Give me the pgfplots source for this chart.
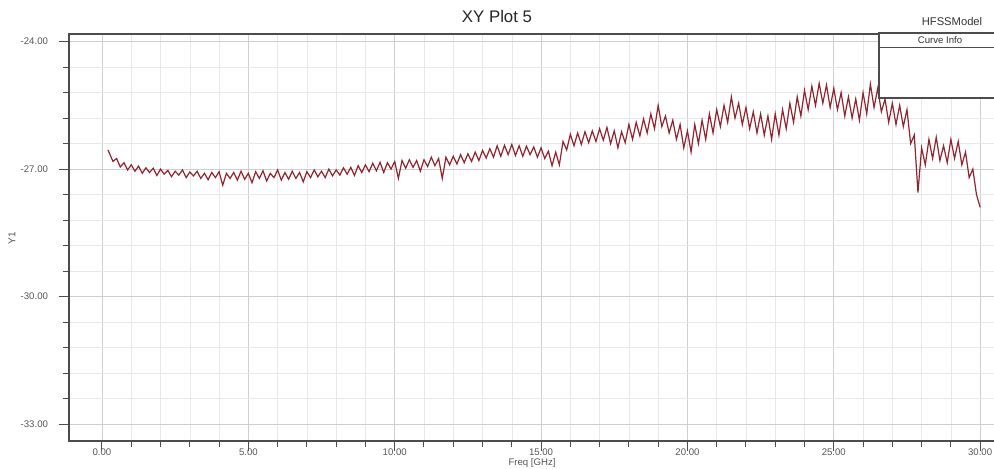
\documentclass[border=0pt]{standalone}
\usepackage{pgfplots}
\pgfplotsset{compat=1.18}
\usepackage{fontspec}
\setmainfont{Liberation Sans}
\definecolor{curve}{RGB}{145,36,46}
\definecolor{tickcol}{RGB}{85,85,85}
\begin{document}
\begin{tikzpicture}
\useasboundingbox (0pt,0pt) rectangle (497pt,234.5pt);
\begin{axis}[
  at={(34.5pt,14pt)}, anchor=south west,
  width=464.5pt, height=203.5pt, scale only axis,
  xmin=-1.127, xmax=30.61, ymin=-33.4, ymax=-23.82,
  xtick={0,5,10,15,20,25,30}, minor x tick num=4,
  ytick={-33,-30,-27,-24}, minor y tick num=4,
  grid=both,
  major grid style={draw=gray!38, line width=0.35pt},
  minor grid style={draw=gray!18, line width=0.3pt},
  axis line style={draw=gray!60!black, line width=0.7pt},
  tick align=outside, tick pos=left,
  major tick length=5pt, minor tick length=3pt,
  every tick/.style={draw=gray!60!black, line width=0.5pt},
  /pgf/number format/assume math mode=true,
  /pgf/number format/.cd, fixed, fixed zerofill, precision=2,
  /pgfplots/.cd,
  ticklabel style={font=\fontsize{4.8}{5}\selectfont, text=tickcol},
  yticklabel style={xshift=-2pt},
  xticklabel style={yshift=4.5pt},
]
\addplot[curve, line width=0.6pt] coordinates {
(0.2,-26.55)(0.25,-26.62)(0.375,-26.82)(0.5,-26.75)(0.625,-26.95)(0.75,-26.85)(0.875,-27.02)
(1.0,-26.9)(1.125,-27.05)(1.25,-26.93)(1.375,-27.1)(1.5,-26.97)(1.625,-27.08)(1.75,-26.98)(1.875,-27.15)
(2.0,-27.0)(2.125,-27.12)(2.25,-27.03)(2.375,-27.18)(2.5,-27.05)(2.625,-27.14)(2.75,-27.02)(2.875,-27.2)
(3.0,-27.07)(3.125,-27.16)(3.25,-27.05)(3.375,-27.22)(3.5,-27.1)(3.625,-27.25)(3.75,-27.08)(3.875,-27.2)
(4.0,-27.06)(4.125,-27.38)(4.25,-27.1)(4.375,-27.22)(4.5,-27.08)(4.625,-27.26)(4.75,-27.05)(4.875,-27.24)
(5.0,-27.1)(5.125,-27.32)(5.25,-27.06)(5.375,-27.22)(5.5,-27.04)(5.625,-27.28)(5.75,-27.1)(5.875,-27.2)
(6.0,-27.02)(6.125,-27.26)(6.25,-27.08)(6.375,-27.24)(6.5,-27.05)(6.625,-27.22)(6.75,-27.08)(6.875,-27.3)
(7.0,-27.06)(7.125,-27.2)(7.25,-27.02)(7.375,-27.18)(7.5,-27.05)(7.625,-27.2)(7.75,-27.0)(7.875,-27.16)
(8.0,-27.02)(8.125,-27.14)(8.25,-26.97)(8.375,-27.12)(8.5,-26.96)(8.625,-27.15)(8.75,-26.92)(8.875,-27.08)
(9.0,-26.9)(9.125,-27.06)(9.25,-26.86)(9.375,-27.04)(9.5,-26.84)(9.625,-27.08)(9.75,-26.85)(9.875,-27.0)
(10.0,-26.82)(10.125,-27.22)(10.25,-26.8)(10.375,-26.98)(10.5,-26.78)(10.625,-26.96)(10.75,-26.8)(10.875,-27.05)
(11.0,-26.78)(11.125,-26.94)(11.25,-26.72)(11.375,-26.92)(11.5,-26.75)(11.625,-27.22)(11.75,-26.72)(11.875,-26.9)
(12.0,-26.7)(12.125,-26.88)(12.25,-26.66)(12.375,-26.85)(12.5,-26.64)(12.625,-26.82)(12.75,-26.6)(12.875,-26.8)
(13.0,-26.56)(13.125,-26.74)(13.25,-26.52)(13.375,-26.72)(13.5,-26.45)(13.625,-26.7)(13.75,-26.44)(13.875,-26.66)
(14.0,-26.42)(14.125,-26.68)(14.25,-26.45)(14.375,-26.7)(14.5,-26.46)(14.625,-26.66)(14.75,-26.48)(14.875,-26.72)
(15.0,-26.5)(15.125,-26.75)(15.25,-26.58)(15.375,-26.92)(15.5,-26.6)(15.625,-26.9)(15.75,-26.35)(15.875,-26.55)
(16.0,-26.18)(16.125,-26.45)(16.25,-26.15)(16.375,-26.42)(16.5,-26.12)(16.625,-26.38)(16.75,-26.1)(16.875,-26.35)
(17.0,-26.05)(17.125,-26.32)(17.25,-26.02)(17.375,-26.4)(17.5,-26.1)(17.625,-26.5)(17.75,-26.12)(17.875,-26.38)
(18.0,-25.95)(18.125,-26.3)(18.25,-25.9)(18.375,-26.22)(18.5,-25.82)(18.625,-26.15)(18.75,-25.7)(18.875,-26.05)
(19.0,-25.5)(19.125,-26.0)(19.25,-25.75)(19.375,-26.15)(19.5,-25.85)(19.625,-26.3)(19.75,-25.95)(19.875,-26.5)
(20.0,-26.1)(20.125,-26.6)(20.25,-25.95)(20.375,-26.4)(20.5,-25.85)(20.625,-26.3)(20.75,-25.7)(20.875,-26.15)
(21.0,-25.6)(21.125,-26.0)(21.25,-25.5)(21.375,-25.9)(21.5,-25.3)(21.625,-25.8)(21.75,-25.45)(21.875,-25.95)
(22.0,-25.55)(22.125,-26.05)(22.25,-25.65)(22.375,-26.15)(22.5,-25.7)(22.625,-26.2)(22.75,-25.75)(22.875,-26.3)
(23.0,-25.7)(23.125,-26.2)(23.25,-25.6)(23.375,-26.05)(23.5,-25.45)(23.625,-25.9)(23.75,-25.3)(23.875,-25.75)
(24.0,-25.15)(24.125,-25.6)(24.25,-25.05)(24.375,-25.5)(24.5,-24.98)(24.625,-25.45)(24.75,-25.02)(24.875,-25.55)
(25.0,-25.1)(25.125,-25.6)(25.25,-25.2)(25.375,-25.75)(25.5,-25.3)(25.625,-25.8)(25.75,-25.35)(25.875,-25.85)
(26.0,-25.2)(26.125,-25.7)(26.25,-25.0)(26.375,-25.55)(26.5,-25.1)(26.625,-25.65)(26.75,-25.35)(26.875,-25.9)
(27.0,-25.45)(27.125,-25.95)(27.25,-25.5)(27.375,-26.0)(27.5,-25.6)(27.625,-26.4)(27.75,-26.2)(27.875,-27.55)
(28.0,-26.5)(28.125,-26.9)(28.25,-26.3)(28.375,-26.75)(28.5,-26.25)(28.625,-26.8)(28.75,-26.45)(28.875,-26.85)
(29.0,-26.3)(29.125,-26.75)(29.25,-26.35)(29.375,-26.9)(29.5,-26.6)(29.625,-27.2)(29.75,-27.0)(29.875,-27.6)
(30.0,-27.9)
};
\end{axis}
\node[font=\fontsize{8.4}{9}\selectfont, text=black!85] at (248.5pt,226pt) {XY Plot 5};
\node[font=\fontsize{5.6}{6}\selectfont, text=black!80] at (476pt,223.5pt) {HFSSModel};
\filldraw[fill=white, draw=gray!60!black, line width=0.6pt] (439.5pt,185.5pt) rectangle (505pt,218pt);
\draw[gray!60!black, line width=0.4pt] (439.5pt,210.6pt) -- (505pt,210.6pt);
\node[font=\fontsize{4.8}{5}\selectfont, text=black!80] at (470pt,214.3pt) {Curve Info};
\node[font=\fontsize{5}{5}\selectfont, text=tickcol, rotate=90] at (6pt,115.5pt) {Y1};
\node[font=\fontsize{4.8}{5}\selectfont, text=tickcol] at (266pt,3pt) {Freq [GHz]};
\end{tikzpicture}
\end{document}
